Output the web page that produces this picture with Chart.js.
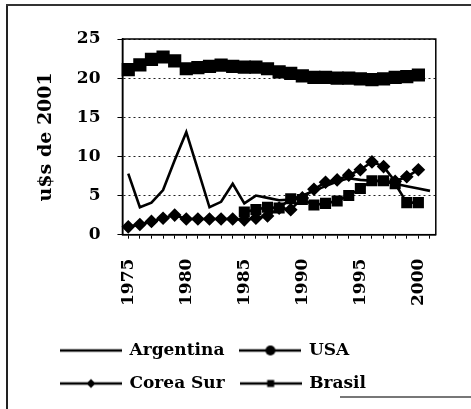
<!DOCTYPE html>
<html><head><meta charset="utf-8">
<script src="https://cdn.jsdelivr.net/npm/chart.js@4"></script>
<style>
html,body{margin:0;padding:0;background:#fff;}
#wrap{position:relative;width:471px;height:409px;overflow:hidden;background:#fff;}
#c{position:absolute;left:0;top:0;}
.frameL{position:absolute;left:6px;top:4px;width:2px;height:405px;background:#222;}
.frameT{position:absolute;left:6px;top:4px;width:465px;height:2px;background:#333;}
.frameB{position:absolute;left:340px;top:396px;width:131px;height:2px;background:#777;}
</style></head><body>
<div id="wrap"><canvas id="c" width="471" height="409"></canvas>
<div class="frameL"></div><div class="frameT"></div><div class="frameB"></div></div>
<script>
const years = [1975,1976,1977,1978,1979,1980,1981,1982,1983,1984,1985,1986,1987,1988,1989,1990,1991,1992,1993,1994,1995,1996,1997,1998,1999,2000,2001];
const argentina = [7.8,3.5,4.1,5.7,9.5,13.1,8.3,3.5,4.2,6.5,4.0,5.0,4.7,4.4,4.5,5.0,5.6,6.2,6.8,7.2,7.0,6.9,6.8,6.5,6.2,5.9,5.6];
const usa = [21.1,21.7,22.4,22.7,22.2,21.2,21.35,21.5,21.65,21.5,21.4,21.4,21.2,20.8,20.6,20.3,20.1,20.1,20.0,20.0,19.9,19.8,19.9,20.1,20.2,20.4,null];
const coreaSur = [1.0,1.3,1.7,2.1,2.5,2.0,2.0,2.0,2.0,2.0,1.9,2.1,2.4,3.4,3.2,4.7,5.8,6.7,7.0,7.6,8.3,9.3,8.7,6.8,7.4,8.3,null];
const brasil = [null,null,null,null,null,null,null,null,null,null,2.9,3.2,3.5,3.4,4.6,4.5,3.8,4.0,4.3,5.0,5.9,6.9,6.9,6.5,4.1,4.1,null];
const yTicks = [0,5,10,15,20,25];
const labelStep = 5;

const FONT = "'DejaVu Serif', serif";
Chart.defaults.font.family = FONT;
Chart.defaults.font.weight = 'bold';
Chart.defaults.color = '#000';

function legendImg(kind){
  const c = document.createElement('canvas'); c.width = 62; c.height = 14;
  const g = c.getContext('2d');
  g.strokeStyle = '#000'; g.lineWidth = 2.5;
  g.beginPath(); g.moveTo(0,7); g.lineTo(62,7); g.stroke();
  g.fillStyle = '#000';
  if (kind === 'usa') { g.beginPath(); g.arc(31,7,5,0,Math.PI*2); g.fill(); }
  if (kind === 'corea') { g.beginPath(); g.moveTo(31,2.5); g.lineTo(35.5,7); g.lineTo(31,11.5); g.lineTo(26.5,7); g.closePath(); g.fill(); }
  if (kind === 'brasil') { g.fillRect(27.5,3.5,7,7); }
  return c;
}
const legendImgs = [legendImg('arg'), legendImg('usa'), legendImg('corea'), legendImg('brasil')];

const frame = {
  id: 'frame',
  beforeDatasetsDraw(chart){
    const {ctx, chartArea:a} = chart;
    ctx.save(); ctx.strokeStyle = '#000'; ctx.lineWidth = 1.5;
    ctx.strokeRect(a.left, a.top, a.right - a.left, a.bottom - a.top);
    ctx.restore();
  }
};

const common = {borderColor:'#000', backgroundColor:'#000', pointBackgroundColor:'#000', pointBorderColor:'#000', borderWidth:2.6, tension:0, spanGaps:false};

new Chart(document.getElementById('c'), {
  type: 'line',
  data: {
    labels: years.map(String),
    datasets: [
      Object.assign({label:'Argentina', data: argentina, pointRadius:0}, common),
      Object.assign({label:'USA', data: usa, pointStyle:'rect', pointRadius:7.5}, common),
      Object.assign({label:'Corea Sur', data: coreaSur, pointStyle:'rectRot', pointRadius:5}, common),
      Object.assign({label:'Brasil', data: brasil, pointStyle:'rect', pointRadius:6}, common)
    ]
  },
  options: {
    responsive: false, animation: false, devicePixelRatio: 1,
    layout: {padding: {left: 45, right: 33, top: 39, bottom: 7}},
    plugins: {
      tooltip: {enabled: false},
      legend: {
        position: 'bottom', align: 'start',
        labels: {
          usePointStyle: true, pointStyleWidth: 60, padding: 16, color: '#000',
          font: {family: FONT, size: 17, weight: 'bold'},
          generateLabels(chart){
            const items = Chart.defaults.plugins.legend.labels.generateLabels(chart);
            items.forEach((it, i) => { it.pointStyle = legendImgs[i]; });
            return items;
          }
        }
      }
    },
    scales: {
      x: {
        type: 'category', offset: true,
        grid: {display: true, drawOnChartArea: false, drawTicks: true, tickLength: 4, color: '#000', tickColor: '#000'},
        border: {display: true, color: '#000', width: 1.5},
        ticks: {
          autoSkip: false, minRotation: 90, maxRotation: 90, padding: 20, color: '#000',
          font: {family: FONT, size: 17, weight: 'bold'},
          callback: (v, i) => (years[i] % labelStep === 0 ? String(years[i]) : '')
        }
      },
      y: {
        min: 0, max: 25,
        afterBuildTicks(scale){ scale.ticks = yTicks.map(v => ({value: v})); },
        grid: {color: '#222', lineWidth: 1, drawTicks: true, tickLength: 5, tickColor: '#000'},
        border: {display: true, color: '#000', width: 1.5, dash: [2, 3]},
        ticks: {padding: 17, color: '#000', font: {family: FONT, size: 17, weight: 'bold'}},
        title: {display: true, text: 'u$s de 2001', color: '#000', padding: {top: -10, bottom: 2}, font: {family: FONT, size: 19, weight: 'bold'}}
      }
    }
  },
  plugins: [frame]
});
</script>
</body></html>
